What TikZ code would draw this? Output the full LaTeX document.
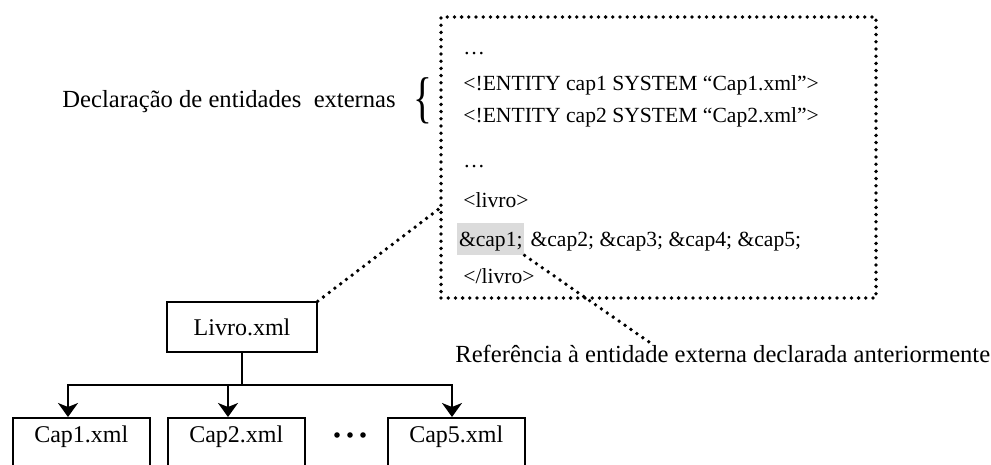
\documentclass[tikz,border=0pt]{standalone}
\usepackage{fontspec}
\setmainfont{Liberation Serif}
\usetikzlibrary{calc,arrows.meta}
\begin{document}
\begin{tikzpicture}[x=0.5pt,y=-0.5pt,
  every node/.style={font=\fontsize{12}{14}\selectfont},
  capbox/.style={draw, line width=0.75pt, inner sep=0pt, minimum width=68.5pt, text height=12.5pt, text depth=30pt, anchor=north west},
  dotline/.style={line width=1.9pt, line cap=round, dash pattern=on 0pt off 3.6pt},
  code/.style={anchor=base west, inner sep=0pt, font=\fontsize{10.8}{13}\selectfont},
  lbl/.style={anchor=base west, inner sep=0pt, font=\fontsize{12.3}{14}\selectfont},
  tree/.style={line width=1pt},
  arr/.style={tree, -{Stealth[width=10pt,length=7pt,inset=2pt]}}
]
\useasboundingbox (0,0) rectangle (991,465);

% dotted declaration box
\node[draw, dotline, inner sep=0pt, minimum width=217.5pt, minimum height=140.5pt] (decl) at (658.5,157.5) {};

% code lines
\node[code] (l1) at (463,55) {…};
\node[code] (l2) at (463,91) {<!ENTITY cap1 SYSTEM “Cap1.xml”>};
\node[code] (l3) at (463,123) {<!ENTITY cap2 SYSTEM “Cap2.xml”>};
\node[code] (l4) at (463,168) {…};
\node[code] (l5) at (463,207) {<livro>};
\node[code, fill=black!14, inner xsep=0.8pt, text height=11.5pt, text depth=4.5pt] (hl) at (457,246) {\&cap1;};
\node[code] (l6b) at ([xshift=2.8pt]hl.base east) {\&cap2; \&cap3; \&cap4; \&cap5;};
\node[code] (l7) at (463,283) {</livro>};

% left label and brace
\node[lbl] (declabel) at (62,108) {Declaração de entidades\ \ externas};
\node[inner sep=0pt] (brace) at (423,101) {\scalebox{0.7}[1]{\fontsize{28}{28}\selectfont\{}};

% reference label
\node[lbl] (reflabel) at (455,362) {Referência à entidade externa declarada anteriormente};
\coordinate (refpt) at (649,342);

% tree
\node[draw, line width=0.75pt, minimum width=75pt, minimum height=25pt, inner sep=0pt] (livro) at (242,327) {Livro.xml};
\node[capbox] (cap1) at (12,417) {Cap1.xml};
\node[capbox] (cap2) at (167,417) {Cap2.xml};
\node[capbox] (cap5) at (387,417) {Cap5.xml};

\coordinate (j) at (242,385);
\coordinate (a1) at (68,417);
\coordinate (a2) at (228,417);
\coordinate (a5) at (452,417);
\draw[tree] (livro.south) -- (j);
\draw[arr] (j) -| (a1);
\draw[arr] (j) -| (a5);
\draw[arr] (a2 |- j) -- (a2);

\fill (337,435) circle (2.8);
\fill (350,435) circle (2.8);
\fill (363,435) circle (2.8);

% dotted connectors
\coordinate (declin) at ($(decl.north west)!0.68!(decl.south west)$);
\draw[dotline] (livro.north east) -- (declin);
\draw[dotline] (hl.south east) -- (refpt);
\end{tikzpicture}
\end{document}
